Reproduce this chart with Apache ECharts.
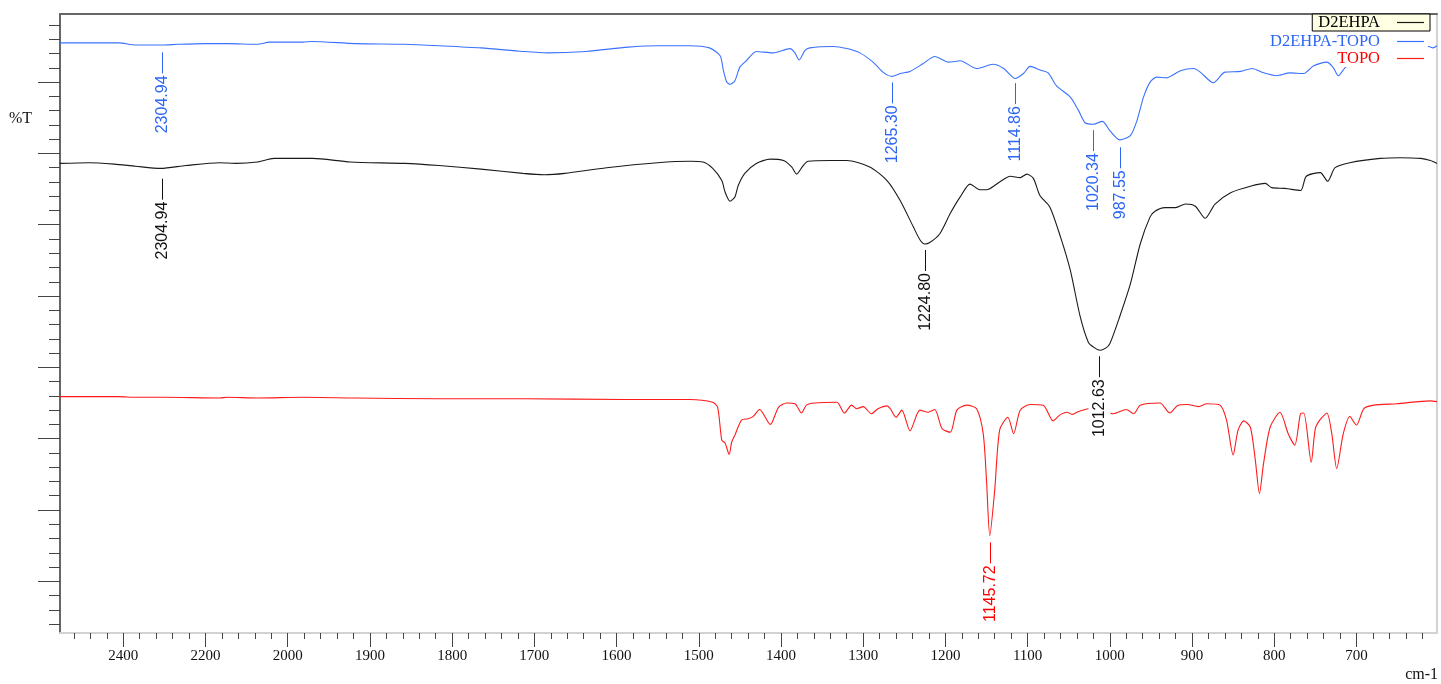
<!DOCTYPE html>
<html><head><meta charset="utf-8">
<script src="https://cdn.jsdelivr.net/npm/echarts@6/dist/echarts.min.js"></script>
<style>html,body{margin:0;padding:0;background:#fff;}#chart{width:1441px;height:684px;}</style>
</head><body><div id="chart"></div>
<script>
// ---- data: [wavenumber cm-1, %T (offset spectra, arbitrary units)] ----
const seriesNames = ['D2EHPA', 'D2EHPA-TOPO', 'TOPO'];

const d2ehpa = [[2555,58.6],[2483,58.7],[2422,58.5],[2370,58.2],[2309,57.9],[2248,58.3],[2166,58.7],[2125,58.6],[2074,58.8],[2033,59.3],[1970,59.3],[1924,58.8],[1858,58.6],[1816,58.3],[1765,57.8],[1714,57.2],[1688,57.0],[1663,57.2],[1612,58.0],[1550,58.7],[1510,58.9],[1495,58.8],[1483,57.9],[1472,56.2],[1468,54.6],[1462,53.3],[1456,53.9],[1452,55.5],[1444,57.2],[1430,58.6],[1413,59.2],[1397,59.0],[1387,58.1],[1381,57.1],[1373,58.3],[1367,58.9],[1340,59.0],[1320,59.0],[1292,58.1],[1271,56.2],[1255,53.4],[1239,49.7],[1231,47.9],[1225,47.3],[1219,47.5],[1207,48.7],[1194,51.6],[1182,53.9],[1170,55.7],[1158,54.9],[1150,54.9],[1134,56.0],[1121,56.8],[1109,56.6],[1101,57.1],[1093,56.5],[1085,54.1],[1073,52.5],[1060,48.3],[1048,43.6],[1036,37.1],[1026,33.5],[1018,32.7],[1012,32.4],[1005,32.7],[1000,33.3],[988,37.1],[975,41.7],[963,47.3],[951,51.1],[945,51.9],[933,52.4],[920,52.4],[908,52.9],[896,52.6],[884,50.9],[872,52.9],[853,54.5],[829,55.4],[811,55.8],[803,55.2],[787,55.1],[768,54.8],[761,56.8],[744,57.3],[735,56.1],[726,58.0],[708,58.7],[671,59.3],[647,59.4],[622,59.3],[610,59.0],[602,58.6]];

const d2ehpaTopo = [[2555,75.5],[2483,75.5],[2411,75.5],[2370,75.2],[2304,75.2],[2268,75.3],[2200,75.4],[2146,75.4],[2073,75.3],[2044,75.6],[1981,75.6],[1971,75.7],[1918,75.4],[1858,75.3],[1816,75.1],[1765,74.8],[1714,74.3],[1684,74.1],[1637,74.3],[1586,74.9],[1550,75.1],[1511,75.1],[1487,74.8],[1474,73.7],[1470,71.6],[1466,70.0],[1462,69.7],[1456,70.2],[1450,72.1],[1442,73.0],[1430,74.3],[1410,74.1],[1389,74.7],[1383,74.1],[1378,73.1],[1371,74.4],[1365,74.8],[1336,75.0],[1320,74.7],[1304,74.1],[1288,72.8],[1276,71.4],[1265,70.8],[1255,71.2],[1243,71.5],[1227,72.6],[1213,73.6],[1196,72.8],[1182,73.0],[1162,71.9],[1142,72.5],[1129,71.9],[1115,70.5],[1105,71.2],[1097,72.2],[1085,71.7],[1075,71.3],[1065,69.5],[1048,67.9],[1038,66.0],[1030,64.3],[1020,64.1],[1009,64.5],[1000,63.2],[988,61.9],[975,62.5],[967,64.6],[959,67.9],[951,70.0],[943,70.7],[931,70.6],[914,71.6],[898,71.9],[890,71.4],[874,69.9],[860,71.4],[841,71.5],[827,71.9],[813,71.3],[797,70.9],[781,71.3],[764,71.2],[752,72.3],[736,72.8],[728,72.0],[722,70.9],[714,72.0],[700,73.6],[670,74.5],[640,74.9],[612,75.0],[607,74.8],[602,75.1]];

const topo = [[2555,25.9],[2483,25.9],[2411,25.9],[2370,25.8],[2300,25.8],[2166,25.7],[2146,25.8],[2073,25.7],[1981,25.8],[1918,25.7],[1816,25.6],[1714,25.6],[1590,25.5],[1511,25.5],[1483,25.1],[1477,24.4],[1472,19.8],[1468,19.4],[1463,17.8],[1460,19.5],[1456,20.5],[1448,22.6],[1440,22.8],[1434,23.1],[1426,24.1],[1413,22.0],[1403,24.4],[1393,25.0],[1383,24.9],[1375,23.6],[1369,24.7],[1359,25.0],[1332,25.1],[1323,23.6],[1314,24.7],[1308,24.2],[1300,24.5],[1290,23.5],[1282,24.2],[1271,24.6],[1267,24.2],[1260,23.0],[1253,24.0],[1243,21.1],[1231,24.0],[1221,23.7],[1213,24.1],[1204,21.4],[1194,20.9],[1186,24.0],[1174,24.7],[1162,24.2],[1154,20.7],[1150,14.2],[1146,6.4],[1140,12.8],[1134,21.2],[1124,23.0],[1117,20.7],[1109,24.0],[1097,24.8],[1081,24.7],[1069,22.5],[1061,23.3],[1052,23.7],[1046,23.4],[1040,23.7],[1026,24.2],[1012,24.0],[996,23.5],[980,24.1],[971,23.5],[963,24.7],[939,25.0],[927,23.6],[917,24.7],[906,24.8],[892,24.5],[882,24.9],[866,24.7],[858,22.6],[850,17.7],[844,21.2],[837,22.5],[829,21.6],[823,17.0],[818,12.3],[813,16.5],[805,21.6],[793,23.7],[783,20.7],[775,19.1],[768,23.5],[764,23.6],[755,16.7],[750,21.4],[744,22.7],[736,23.6],[730,20.7],[724,15.8],[716,20.7],[708,23.1],[700,21.9],[691,24.2],[679,24.7],[651,24.9],[610,25.3],[602,25.2]];

// peak annotations: [wavenumber, %T at marker]
const peaksD2ehpa = [[2304.94,57.3],[1224.80,47.3],[1012.63,32.4]];
const peaksD2ehpaTopo = [[2304.94,75.0],[1265.30,70.8],[1114.86,70.7],[1020.34,64.1],[987.55,61.7]];
const peaksTopo = [[1145.72,6.3]];

// axis ticks (cm-1)
const wavenumberTicks = [2400,2200,2000,1900,1800,1700,1600,1500,1400,1300,1200,1100,1000,900,800,700];
const xRange = [602, 2554];
const yRange = [-7.25, 79.55];
const yMajorTicks = [0,10,20,30,40,50,60,70];

// ---- FTIR axis: 2x expansion below 2000 cm-1 ----
function toU(w){ return w <= 2000 ? w : 2000 + (w - 2000) / 2; }
function fromU(u){ return u <= 2000 ? u : 2000 + (u - 2000) * 2; }

const majorU = wavenumberTicks.map(toU);
const minorU = [];
for (let u = 620; u <= 2260; u += 20) { if (u % 100 !== 0) minorU.push(u); }
const yMinor = [];
for (let v = -6; v <= 78; v += 2) { if (v % 10 !== 0) yMinor.push(v); }

const colBlack = '#1a1a1a', colBlue = '#3a72ff', colRed = '#ff1a1a';
const txtBlue = '#2d66f5', txtRed = '#ff0000';

const xMin = toU(xRange[0]), xMax = toU(xRange[1]);
function xAx(extra){ return Object.assign({type:'value', inverse:true, min:xMin, max:xMax, gridIndex:0,
  splitLine:{show:false}, axisLabel:{show:false}, axisTick:{show:false}, axisLine:{show:false, onZero:false}}, extra); }
function yAx(extra){ return Object.assign({type:'value', min:yRange[0], max:yRange[1], gridIndex:0,
  splitLine:{show:false}, axisLabel:{show:false}, axisTick:{show:false}, axisLine:{show:false, onZero:false}}, extra); }

function lineSeries(name, data, color){
  return {name, type:'line', data:data.map(p => [toU(p[0]), p[1]]), xAxisIndex:0, yAxisIndex:0,
    showSymbol:false, symbol:'none', smooth:0.25, lineStyle:{color, width:1.1}, itemStyle:{color},
    emphasis:{disabled:true}, silent:true, z:2};
}
function annotationSeries(peaks, color){
  return {type:'custom', xAxisIndex:0, yAxisIndex:0, z:6, silent:true, clip:false,
    data: peaks.map(p => [toU(p[0]), p[1]]),
    renderItem: function(params, api){
      const pt = api.coord([api.value(0), api.value(1)]);
      const x = Math.round(pt[0]) + 0.5;
      const label = peaks[params.dataIndex][0].toFixed(2);
      return {type:'group', children:[
        {type:'line', shape:{x1:x, y1:pt[1]+6, x2:x, y2:pt[1]+27}, style:{stroke:color, lineWidth:1}},
        {type:'text', x:x, y:pt[1]+29, rotation:Math.PI/2,
          style:{text:label, fill:color, font:'16px "Liberation Sans", Arial, sans-serif',
            align:'right', verticalAlign:'middle', backgroundColor:'#fff', padding:[3,0,3,0]}}
      ]};
    }};
}
function legendBox(name, color, top, bg, border, pad, right){
  return {data:[{name, textStyle:{color}}], right, top, orient:'horizontal', align:'right',
    icon:'rect', itemWidth:27, itemHeight:1.2, itemGap:0, selectedMode:false,
    backgroundColor:bg, borderColor:border ? '#000' : 'transparent', borderWidth:border ? 1 : 0,
    padding:pad, z:10,
    textStyle:{fontFamily:'"Liberation Serif", "Times New Roman", serif', fontSize:16.5, lineHeight:17, padding:[0,12,0,0]}};
}

const chart = echarts.init(document.getElementById('chart'), null, {renderer:'canvas'});
chart.setOption({
  animation:false,
  backgroundColor:'#fff',
  grid:{left:60, right:4, top:14, bottom:51, containLabel:false},
  xAxis:[
    xAx({position:'bottom', axisLine:{show:true, onZero:false, lineStyle:{color:'#d2d2d2', width:2}},
      axisLabel:{show:true, customValues:majorU, margin:16, color:'#111',
        fontFamily:'"Liberation Serif", "Times New Roman", serif', fontSize:15,
        formatter: v => String(Math.round(fromU(v)))}}),
    xAx({position:'bottom', axisTick:{show:true, customValues:majorU, length:14, lineStyle:{color:'#444', width:1}}}),
    xAx({position:'bottom', axisTick:{show:true, customValues:minorU, length:6, lineStyle:{color:'#444', width:1}}}),
    xAx({position:'top', axisLine:{show:true, onZero:false, lineStyle:{color:'#666', width:2}}})
  ],
  yAxis:[
    yAx({position:'left', axisLine:{show:true, onZero:false, lineStyle:{color:'#666', width:2}},
      axisTick:{show:true, customValues:yMajorTicks, length:22, lineStyle:{color:'#444', width:1}}}),
    yAx({position:'left', axisTick:{show:true, customValues:yMinor, length:11, lineStyle:{color:'#444', width:1}}}),
    yAx({position:'right', axisLine:{show:true, onZero:false, lineStyle:{color:'#d2d2d2', width:2}}})
  ],
  legend:[
    legendBox(seriesNames[0], '#000', 14, '#ffffe4', true, [0,6,0,6], 11),
    legendBox(seriesNames[1], txtBlue, 33, '#fff', false, [0,4,0,4], 13),
    legendBox(seriesNames[2], txtRed, 50, '#fff', false, [0,4,0,4], 13)
  ],
  graphic:[
    {type:'text', left:9, top:111, style:{text:'%T', font:'16px "Liberation Serif", serif', fill:'#111'}},
    {type:'text', right:3, top:667, style:{text:'cm-1', font:'16px "Liberation Serif", serif', fill:'#111'}}
  ],
  series:[
    lineSeries(seriesNames[0], d2ehpa, colBlack),
    lineSeries(seriesNames[1], d2ehpaTopo, colBlue),
    lineSeries(seriesNames[2], topo, colRed),
    annotationSeries(peaksD2ehpa, '#111'),
    annotationSeries(peaksD2ehpaTopo, txtBlue),
    annotationSeries(peaksTopo, txtRed)
  ]
});
</script></body></html>
